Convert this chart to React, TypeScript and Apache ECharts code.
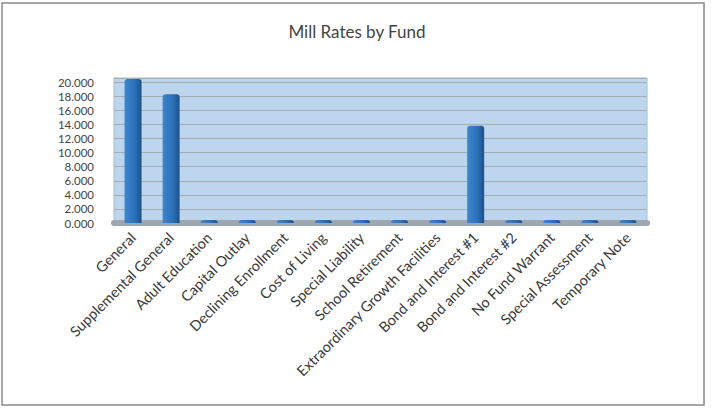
import React, { useEffect, useRef } from "react";
import * as echarts from "echarts";

const categories = [
  "General",
  "Supplemental General",
  "Adult Education",
  "Capital Outlay",
  "Declining Enrollment",
  "Cost of Living",
  "Special Liability",
  "School Retirement",
  "Extraordinary Growth Facilities",
  "Bond and Interest #1",
  "Bond and Interest #2",
  "No Fund Warrant",
  "Special Assessment",
  "Temporary Note",
];

const millRates = [20.45, 18.3, 0, 0, 0, 0, 0, 0, 0, 13.8, 0, 0, 0, 0];

const yTicks = [0, 2, 4, 6, 8, 10, 12, 14, 16, 18, 20];

export default function App() {
  const ref = useRef<HTMLDivElement>(null);

  useEffect(() => {
    if (!ref.current) return;
    const chart = echarts.init(ref.current, undefined, { renderer: "svg" });
    const font = "Lato, 'Open Sans', sans-serif";
    chart.setOption({
      animation: false,
      backgroundColor: "#ffffff",
      title: {
        text: "Mill Rates by Fund",
        left: "center",
        top: 18,
        textStyle: {
          fontFamily: font,
          fontSize: 17,
          fontWeight: "normal",
          color: "#444444",
        },
      },
      graphic: [
        {
          type: "rect",
          shape: { x: 2, y: 3, width: 702, height: 402 },
          style: { fill: "none", stroke: "#8a8a8a", lineWidth: 1.5 },
          z: 0,
        },
      ],
      grid: {
        left: 114,
        right: 67,
        top: 78,
        bottom: 186,
        show: true,
        backgroundColor: "#bdd6ed",
        borderColor: "#a9bccd",
        borderWidth: 1,
      },
      xAxis: {
        type: "category",
        data: categories,
        axisLine: { show: true, lineStyle: { color: "#9ea7b0", width: 6 } },
        axisTick: { show: false },
        axisLabel: {
          rotate: 45,
          interval: 0,
          fontFamily: font,
          fontSize: 14.5,
          color: "#3a3a3a",
          margin: 12,
        },
      },
      yAxis: {
        type: "value",
        min: 0,
        max: 20.6,
        interval: 2,
        axisLine: { show: false },
        axisTick: { show: false },
        axisLabel: {
          fontFamily: font,
          fontSize: 11.5,
          color: "#444444",
          margin: 20,
          showMinLabel: true,
          showMaxLabel: false,
          hideOverlap: false,
          formatter: (v: number) =>
            yTicks.indexOf(Math.round(v * 1000) / 1000) >= 0 ? v.toFixed(3) : "",
        },
        splitLine: { show: true, lineStyle: { color: "#a4acb4", width: 1 } },
      },
      series: [
        {
          type: "bar",
          data: millRates,
          barWidth: 17,
          barMinHeight: 3,
          clip: false,
          itemStyle: {
            color: new echarts.graphic.LinearGradient(0, 0, 1, 0, [
              { offset: 0, color: "#3d86cf" },
              { offset: 0.65, color: "#2a6db4" },
              { offset: 1, color: "#1c4f88" },
            ]),
            borderRadius: [3, 3, 0, 0],
          },
        },
      ],
    });
    return () => chart.dispose();
  }, []);

  return (
    <div
      ref={ref}
      style={{ position: "fixed", left: 0, top: 0, width: 714, height: 409 }}
    />
  );
}
